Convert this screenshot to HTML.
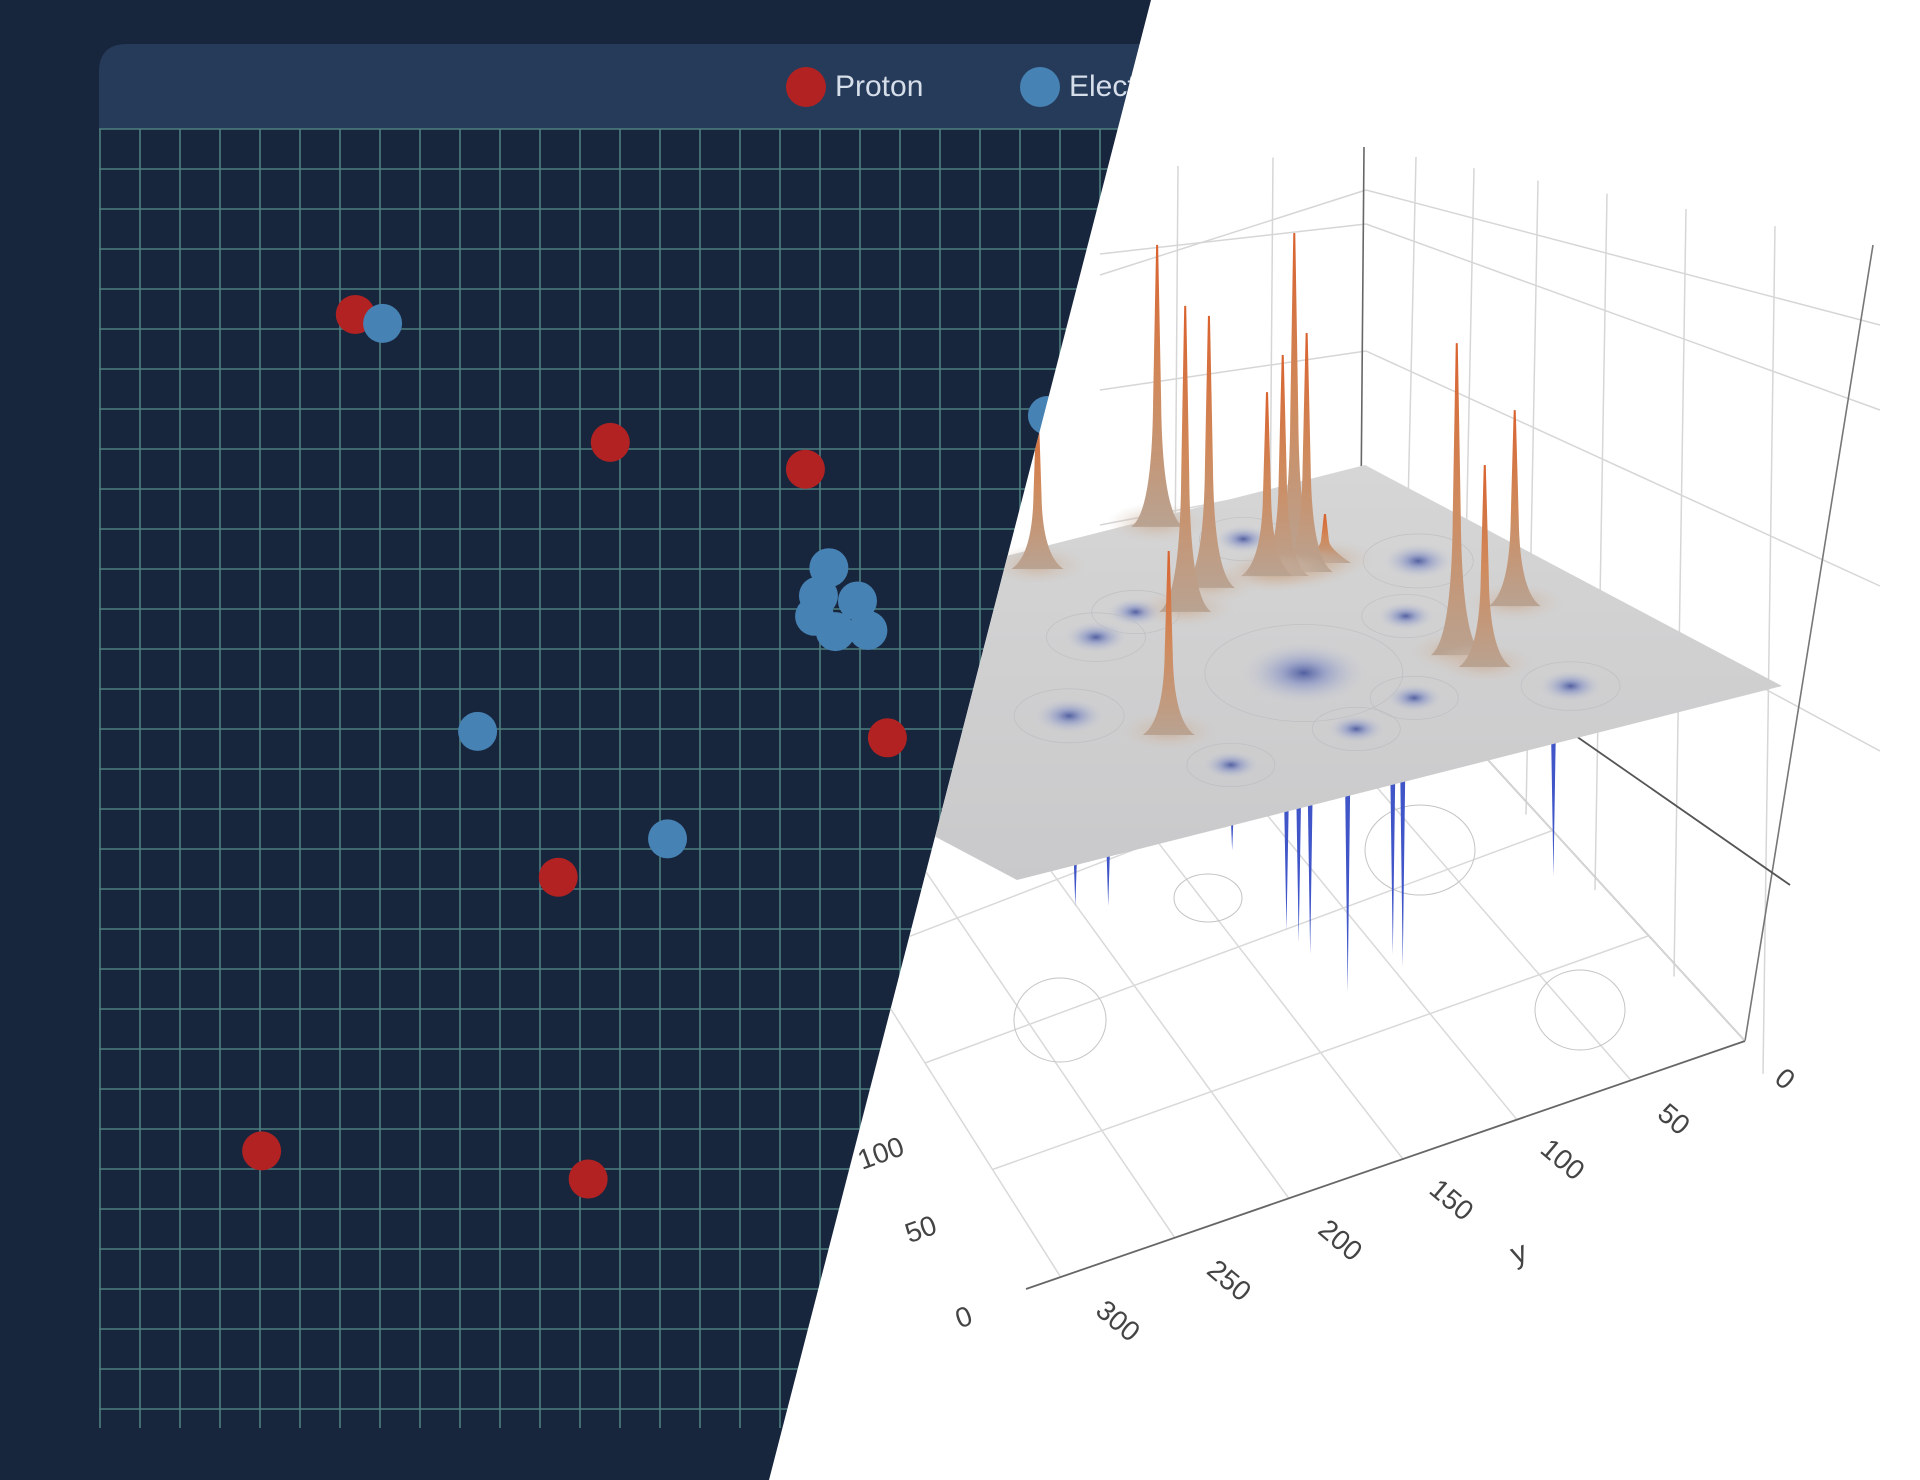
<!DOCTYPE html>
<html><head><meta charset="utf-8"><style>
html,body{margin:0;padding:0;width:1920px;height:1480px;overflow:hidden;background:#18263d;font-family:"Liberation Sans",sans-serif}
svg{position:absolute;left:0;top:0}
</style></head><body>
<svg id="s" width="1920" height="1480" viewBox="0 0 1920 1480" xmlns="http://www.w3.org/2000/svg">
<defs>
<linearGradient id="spk" x1="0" y1="0" x2="0" y2="1"><stop offset="0" stop-color="#d9622e"/><stop offset="0.5" stop-color="#d08a5c"/><stop offset="1" stop-color="#b9a392"/></linearGradient>
<radialGradient id="dip"><stop offset="0" stop-color="#4c5a9e" stop-opacity="0.95"/><stop offset="0.35" stop-color="#7f8cc4" stop-opacity="0.6"/><stop offset="1" stop-color="#cfd0d6" stop-opacity="0"/></radialGradient>
<radialGradient id="skirt"><stop offset="0" stop-color="#c9a283" stop-opacity="0.7"/><stop offset="1" stop-color="#d4c8be" stop-opacity="0"/></radialGradient>
<linearGradient id="pl" x1="0" y1="0" x2="0" y2="1"><stop offset="0" stop-color="#d6d6d6"/><stop offset="1" stop-color="#c9c9cb"/></linearGradient>
<clipPath id="rightClip"><polygon points="1151,0 1920,0 1920,1480 769,1480"/></clipPath>
</defs>
<g id="left">
<path d="M99,129 V72 Q99,44 127,44 H1200 V129 Z" fill="#263b5a"/>
<g id="grid"></g>
<g>
<circle cx="806" cy="87" r="20" fill="#b22222"/>
<text x="835" y="96" font-size="30" fill="#d6deea">Proton</text>
<circle cx="1040" cy="87" r="20" fill="#4682b4"/>
<text x="1069" y="96" font-size="30" fill="#d6deea">Electron</text>
</g>
<g id="pts"></g>
</g>
<g clip-path="url(#rightClip)">
<rect x="0" y="0" width="1920" height="1480" fill="#ffffff"/>
<g id="walls" stroke="#d6d6d6" stroke-width="1.5" fill="none"></g>
<g id="floor" stroke="#d9d9d9" stroke-width="1.5" fill="none"></g>
<g id="down"></g>
<g id="plane"></g>
<g id="dips"></g>
<g id="spikes"></g>
<g id="labels" font-size="28" fill="#444"></g>
</g>
</svg>
<script>
// scatter data
const protonX=[19.7,39.3,54.3,60.6,35.3,12.5,37.6];
const protonY=[85.5,75.5,73.4,52.4,41.5,20.1,17.9];
const electronX=[21.8,56.1,55.3,58.3,55.0,56.6,59.1,29.1,43.7,72.9];
const electronY=[84.8,65.7,63.5,63.1,61.9,60.7,60.8,52.9,44.5,77.6];
// surface data (plane coords a,b in 0..1, heights in px units)
const spikeA=[0.064,0.028,0.310,0.255,0.674,0.276,0.245,0.264,0.269,0.653,0.711,0.548,0.282];
const spikeB=[0.463,0.287,0.404,0.343,0.624,0.258,0.226,0.272,0.199,0.236,0.231,0.103,0.230];
const spikeH=[165,282,306,272,184,221,330,184,49,312,202,196,239];
const dipA=[0.538,0.272,0.318,0.132,0.589,0.335,0.494,0.751,0.801,0.814,0.836];
const dipB=[0.680,0.448,0.525,0.231,0.401,0.113,0.216,0.345,0.448,0.619,0.187];
const dipS=[1.0,0.8,0.9,0.8,1.8,1.0,0.8,0.8,0.8,0.8,0.9];
const downA=[0.85,0.85,0.85,0.85,0.85,0.85,0.85,0.85,0.85,0.85];
const downB=[0.566,0.550,0.535,0.486,0.427,0.414,0.217,0.842,0.799,0.637];
const downD=[168,183,198,245,219,234,181,90,98,74];
const yTicks=["0","50","100","150","200","250","300"];
const xTicks=["0","50","100"];

const NS="http://www.w3.org/2000/svg";
function mk(tag,attrs,parent){const e=document.createElementNS(NS,tag);for(const k in attrs)e.setAttribute(k,attrs[k]);parent.appendChild(e);return e;}
const xS=v=>99+v*13.01, yS=v=>1408-v*12.79;

// grid
const grid=document.getElementById('grid');
for(let x=100;x<=1200;x+=40){const l=mk('line',{x1:x,y1:129,x2:x,y2:1428,stroke:'#4e7f80','stroke-width':1.6},grid);

}
for(let y=129;y<=1410;y+=40){const l=mk('line',{x1:99,y1:y,x2:1200,y2:y,stroke:'#4e7f80','stroke-width':1.6},grid);

}
const pts=document.getElementById('pts');
protonX.forEach((v,i)=>{const c=mk('circle',{cx:xS(v),cy:yS(protonY[i]),r:19.5,fill:'#b22222'},pts);

});
electronX.forEach((v,i)=>{const c=mk('circle',{cx:xS(v),cy:yS(electronY[i]),r:19.5,fill:'#4682b4'},pts);

});

// 3D projection
const proj=(a,b,z)=>[1365+417*a-765*b, 465+221*a+194*b-z];
const walls=document.getElementById('walls');
function ln(p,q,g,st,w,name){const l=mk('line',{x1:p[0],y1:p[1],x2:q[0],y2:q[1]},g);if(st)l.setAttribute('stroke',st);if(w)l.setAttribute('stroke-width',w);

return l;}
[[190,325,275],[224,410,254],[351,586,390],[474,751,525]].forEach(h=>{
 ln([1366,h[0]],[1880,h[1]],walls,null,null,'wall-gridline');
 ln([1366,h[0]],[1100,h[2]],walls,null,null,'wall-gridline');});
[1416,1474,1538,1607,1686,1775].forEach(x=>{const yt=147+(x-1364)*98/509;const yb=620+(x-1360)*421/385;ln([x,yt],[x-12,yb],walls,null,null,'wall-gridline');});
[1178,1273].forEach(x=>{ln([x,166-(x-1178)*0.09],[x-4,620+(1360-x)*230/570],walls,null,null,'wall-gridline');});
ln([1364,147],[1360,620],walls,'#666',1.6,'box-edge');
ln([1873,245],[1745,1041],walls,'#777',1.6,'box-edge');
ln([1369,592],[1790,885],walls,'#555',1.8,'box-edge');
ln([1364,592],[1100,652],walls,'#555',1.8,'box-edge');
ln([1745,1041],[1360,620],walls,'#666',1.6,'box-edge');

// floor
const floor=document.getElementById('floor');
const F=[1060,1276],R=[1745,1041],Bk=[1360,620],L=[790,850];
const lerp=(p,q,t)=>[p[0]+(q[0]-p[0])*t,p[1]+(q[1]-p[1])*t];
for(let i=0;i<=6;i++){const t=i/6;ln(lerp(R,F,t),lerp(Bk,L,t),floor,null,null,'floor-gridline');}
for(let i=1;i<=4;i++){const s=i/4;ln(lerp(F,L,s),lerp(R,Bk,s),floor,null,null,'floor-gridline');}
ln([1026,1289],R,floor,'#666',1.8,'y-axis-line');
[[1060,1020,46,42],[1580,1010,45,40],[1208,898,34,24],[1420,850,55,45]].forEach(c=>{const e=mk('ellipse',{cx:c[0],cy:c[1],rx:c[2],ry:c[3],stroke:'#c4c4c4','stroke-width':1},floor);

});

// down spikes
const down=document.getElementById('down');
downB.forEach((b,i)=>{const p=proj(downA[i],b,0);const e=mk('path',{d:`M${p[0]-3},${p[1]} L${p[0]},${p[1]+downD[i]} L${p[0]+3},${p[1]} Z`,fill:'#3f55c8'},down);

});

// plane
const plane=document.getElementById('plane');
const c0=proj(0,0,0),c1=proj(1,0,0),c2=proj(1,1,0),c3=proj(0,1,0);
const pp=mk('polygon',{points:[c0,c1,c2,c3].map(p=>p.join(',')).join(' '),fill:'url(#pl)'},plane);



// dips
const dips=document.getElementById('dips');
dipA.forEach((a,i)=>{const p=proj(a,dipB[i],0);const s=dipS[i];
const r=mk('ellipse',{cx:p[0],cy:p[1],rx:55*s,ry:27*s,fill:'none',stroke:'#b8b8bc','stroke-width':0.8,'stroke-opacity':0.6},dips);


const e=mk('ellipse',{cx:p[0],cy:p[1],rx:36*s,ry:18*s,fill:'url(#dip)'},dips);

});

// spikes (back to front)
const spikes=document.getElementById('spikes');
const order=spikeA.map((a,i)=>i).sort((i,j)=>(221*spikeA[i]+194*spikeB[i])-(221*spikeA[j]+194*spikeB[j]));
order.forEach(i=>{const p=proj(spikeA[i],spikeB[i],0);const h=spikeH[i];const x=p[0],y=p[1],t=y-h;
const sk=mk('ellipse',{cx:x,cy:y-4,rx:50,ry:20,fill:'url(#skirt)'},spikes);


const e=mk('path',{d:`M${x-26},${y} Q${x-5},${y-14} ${x-4},${y-h*0.45} L${x-1},${t} L${x+1},${t} L${x+4},${y-h*0.45} Q${x+5},${y-14} ${x+26},${y} Z`,fill:'url(#spk)'},spikes);

});

// labels
const labels=document.getElementById('labels');
yTicks.forEach((s,i)=>{const p=lerp(R,[1078,1283],i/6);const x=p[0]+34,y=p[1]+45;
const t=mk('text',{x:x,y:y,transform:`rotate(40 ${x} ${y})`,'text-anchor':'middle'},labels);t.textContent=s;

});
const yt=mk('text',{x:1522,y:1262,transform:'rotate(-20 1522 1262)','text-anchor':'middle','font-size':30},labels);yt.textContent='y';


const xl=[[967,1326],[924,1238],[884,1162]];
xTicks.forEach((s,i)=>{const t=mk('text',{x:xl[i][0],y:xl[i][1],transform:`rotate(-20 ${xl[i][0]} ${xl[i][1]})`,'text-anchor':'middle'},labels);t.textContent=s;

});
</script>
</body></html>
